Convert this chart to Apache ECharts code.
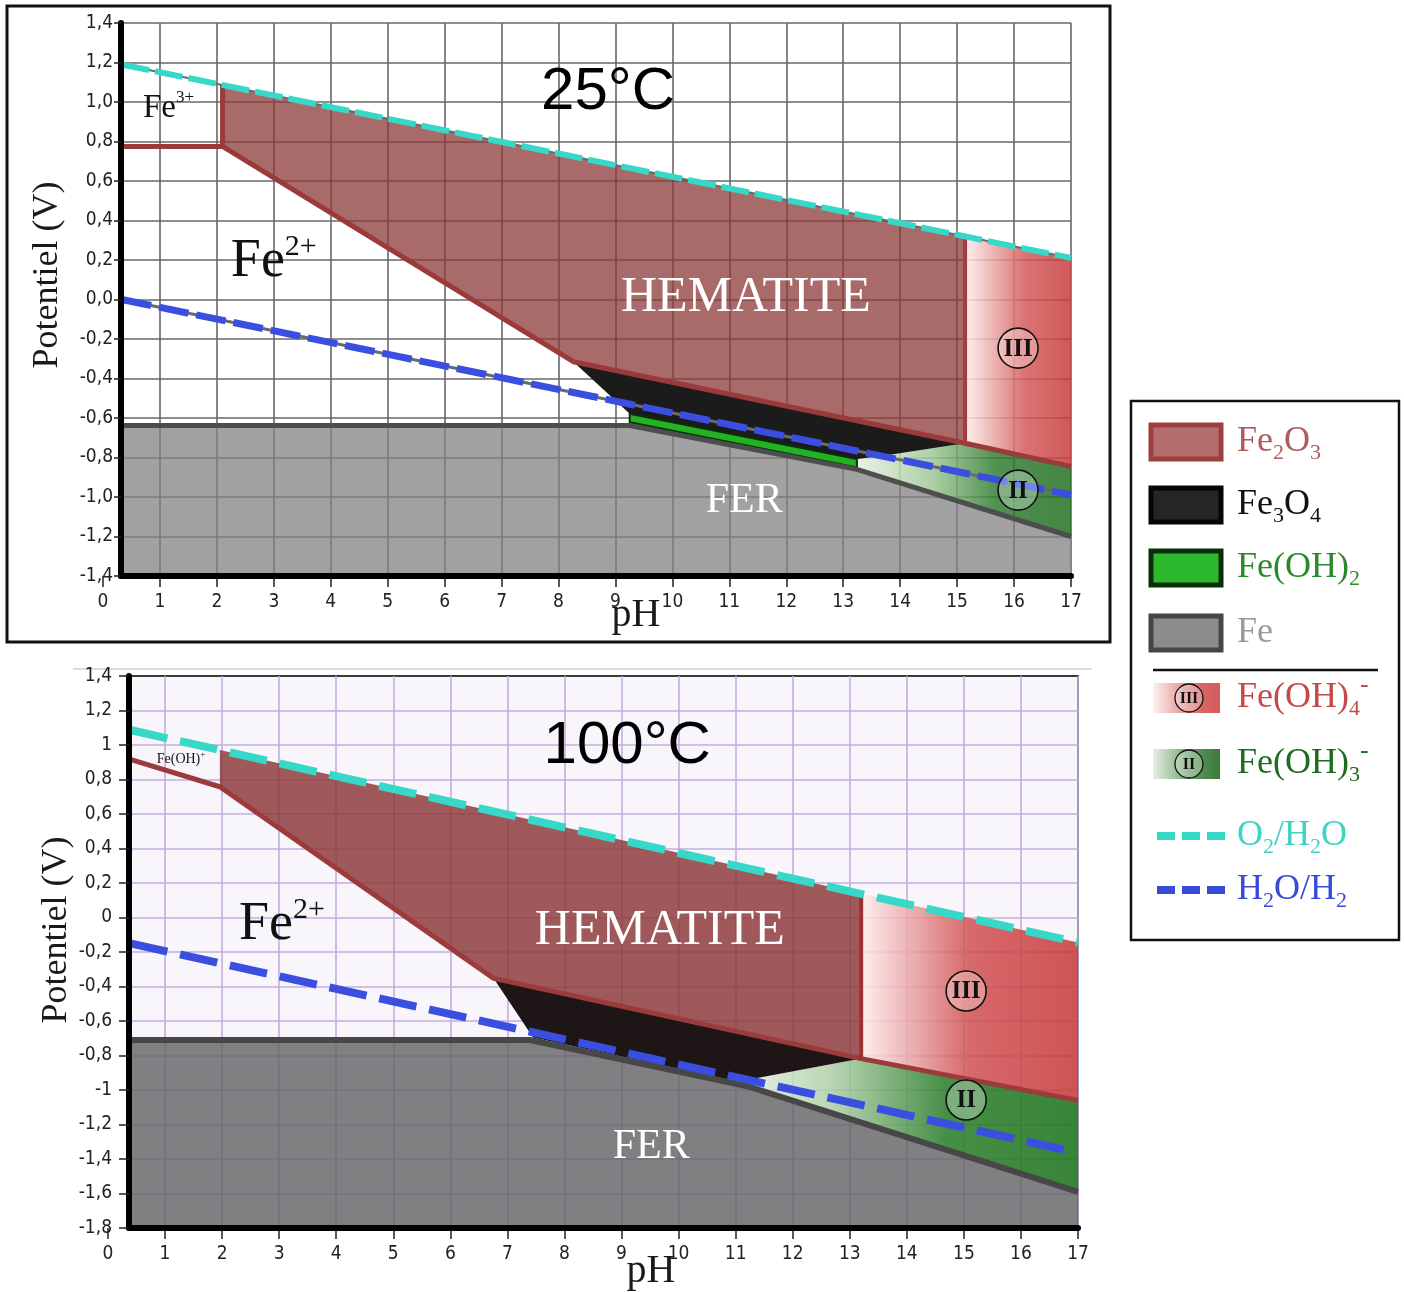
<!DOCTYPE html>
<html><head><meta charset="utf-8">
<script src="https://cdn.jsdelivr.net/npm/echarts@6/dist/echarts.min.js"></script>
<style>html,body{margin:0;padding:0;background:#fff}#c{width:1404px;height:1292px}</style>
</head><body><div id="c"></div>
<script>
// ---------- DATA ----------
const pHTicks = [0,1,2,3,4,5,6,7,8,9,10,11,12,13,14,15,16,17];

// 25 °C diagram (pH, E in V)
const t25_O2H2O   = [[0.33,1.19],[17,0.21]];
const t25_H2OH2   = [[0.33,0.0],[17,-0.99]];
const t25_Fe2O3   = [[2.1,0.775],[2.1,1.086],[15.14,0.319],[15.14,-0.728],[8.26,-0.315]];
const t25_Fe3O4   = [[8.26,-0.315],[15.14,-0.728],[13.79,-0.787],[13.24,-0.808],[9.25,-0.578]];
const t25_FeOH2   = [[9.25,-0.578],[13.24,-0.808],[13.24,-0.85],[9.25,-0.622]];
const t25_Fe      = [[0.33,-0.638],[9.25,-0.638],[13.24,-0.86],[17,-1.2],[17,-1.4],[0.33,-1.4]];
const t25_FeOH4   = [[15.14,0.319],[17,0.21],[17,-0.845],[15.14,-0.728]];
const t25_FeOH3   = [[13.24,-0.808],[13.79,-0.787],[15.14,-0.728],[17,-0.845],[17,-1.2],[13.24,-0.86]];
const t25_redEdge = [[0.33,0.775],[2.1,0.775],[8.26,-0.315],[15.14,-0.728],[17,-0.845]];
const t25_redV1   = [[2.1,0.775],[2.1,1.086]];
const t25_redV2   = [[15.14,0.319],[15.14,-0.728]];
const t25_feEdge  = [[0.33,-0.638],[9.25,-0.638],[13.24,-0.86],[17,-1.2]];
const t25_labels  = [
  {key:'title', text:'25°C', x:8.87, y:1.05},
  {key:'fe3',   text:'Fe', sup:'3+', x:1.15, y:0.97},
  {key:'fe2',   text:'Fe', sup:'2+', x:3.0, y:0.19},
  {key:'hem',   text:'HEMATITE', x:11.29, y:0.008},
  {key:'fer',   text:'FER', x:11.26, y:-1.02},
  {key:'circ',  text:'III', x:16.07, y:-0.246},
  {key:'circ',  text:'II', x:16.07, y:-0.965}
];

// 100 °C diagram
const t100_O2H2O   = [[0.39,1.087],[17,-0.145]];
const t100_H2OH2   = [[0.39,-0.15],[16.9,-1.357]];
const t100_Fe2O3   = [[1.96,0.758],[1.96,0.971],[13.2,0.137],[13.2,-0.818],[6.76,-0.353]];
const t100_Fe3O4   = [[6.76,-0.353],[13.2,-0.818],[11.38,-0.93],[11.23,-0.965],[7.45,-0.695]];
const t100_Fe      = [[0.39,-0.71],[7.4,-0.71],[11.23,-0.98],[17,-1.59],[17,-1.8],[0.39,-1.8]];
const t100_FeOH4   = [[13.2,0.137],[17,-0.145],[17,-1.06],[13.2,-0.818]];
const t100_FeOH3   = [[11.38,-0.93],[13.2,-0.818],[17,-1.06],[17,-1.59],[11.23,-0.98]];
const t100_redEdge = [[0.39,0.917],[1.96,0.758],[6.76,-0.353],[13.2,-0.818],[17,-1.06]];
const t100_redV2   = [[13.2,0.137],[13.2,-0.818]];
const t100_feEdge  = [[0.39,-0.71],[7.4,-0.71],[11.23,-0.98],[17,-1.59]];
const t100_labels  = [
  {key:'title', text:'100°C', x:9.1, y:0.994},
  {key:'small', text:'Fe(OH)', sup:'+', x:1.28, y:0.919},
  {key:'fe2',   text:'Fe', sup:'2+', x:3.05, y:-0.043},
  {key:'hem',   text:'HEMATITE', x:9.67, y:-0.078},
  {key:'fer',   text:'FER', x:9.52, y:-1.33},
  {key:'circ',  text:'III', x:15.04, y:-0.426},
  {key:'circ',  text:'II', x:15.04, y:-1.058}
];

// ---------- RENDER ----------
const SERIF = "'Liberation Serif','DejaVu Serif',serif";
const SANS = "'Liberation Sans',Arial,sans-serif";
const TICKF = "'DejaVu Sans Condensed','DejaVu Sans',sans-serif";
const G = echarts.graphic;
const lg = (stops) => new G.LinearGradient(0,0,1,0, stops.map(s=>({offset:s[0],color:s[1]})));

const chart = echarts.init(document.getElementById('c'), null, {renderer:'canvas'});

function poly(pts, ax, ay, style, z) {
  return {type:'custom', xAxisIndex:ax, yAxisIndex:ay, z, silent:true, animation:false, data: pts,
    renderItem(params, api){
      if (params.dataIndex !== 0) return null;
      return {type:'polygon', shape:{points: pts.map(p=>api.coord(p))}, style};
    }};
}
function line(pts, ax, ay, lineStyle, z) {
  return {type:'line', xAxisIndex:ax, yAxisIndex:ay, data: pts, symbol:'none', silent:true,
    animation:false, z, lineStyle, clip:false};
}
function labels(list, ax, ay, z) {
  return {type:'custom', xAxisIndex:ax, yAxisIndex:ay, z, silent:true, animation:false,
    data: list.map(l=>[l.x,l.y]),
    renderItem(params, api){
      const l = list[params.dataIndex];
      const p = api.coord([l.x,l.y]);
      const base = {x:p[0], y:p[1]};
      if (l.key === 'title') return Object.assign(base,{type:'text', style:{text:l.text, font:`60px ${SANS}`, fill:'#000', align:'center', verticalAlign:'middle'}});
      if (l.key === 'hem') return Object.assign(base,{type:'text', style:{text:l.text, font:`50px ${SERIF}`, fill:'#fff', align:'center', verticalAlign:'middle'}});
      if (l.key === 'fer') return Object.assign(base,{type:'text', style:{text:l.text, font:`42px ${SERIF}`, fill:'#fff', align:'center', verticalAlign:'middle'}});
      if (l.key === 'fe2') return Object.assign(base,{type:'text', style:{text:`{b|${l.text}}{p|${l.sup}}`, align:'center', verticalAlign:'middle',
          rich:{b:{fontSize:54, fontFamily:SERIF, fill:'#111'}, p:{fontSize:30, fontFamily:SERIF, fill:'#111', padding:[0,0,30,0]}}}});
      if (l.key === 'fe3') return Object.assign(base,{type:'text', style:{text:`{b|${l.text}}{p|${l.sup}}`, align:'center', verticalAlign:'middle',
          rich:{b:{fontSize:33, fontFamily:SERIF, fill:'#111'}, p:{fontSize:17, fontFamily:SERIF, fill:'#111', padding:[0,0,20,0]}}}});
      if (l.key === 'small') return Object.assign(base,{type:'text', style:{text:`{b|${l.text}}{p|${l.sup}}`, align:'center', verticalAlign:'middle',
          rich:{b:{fontSize:14, fontFamily:SERIF, fill:'#111'}, p:{fontSize:9, fontFamily:SERIF, fill:'#111', padding:[0,0,8,0]}}}});
      if (l.key === 'circ') return Object.assign(base,{type:'group', children:[
          {type:'circle', shape:{cx:0, cy:0, r:20}, style:{fill:'rgba(255,255,255,0.3)', stroke:'#111', lineWidth:1.6}},
          {type:'text', x:0, y:1, style:{text:l.text, font:`bold 25px ${SERIF}`, fill:'#111', align:'center', verticalAlign:'middle'}}]});
      return null;
    }};
}

function yFmt(dec) {
  return v => { let r = Math.round(v*10)/10; if (Math.abs(r) < 1e-9) r = 0;
    return (dec ? r.toFixed(1) : String(r)).replace('.', ','); };
}
const tickLabel = {fontSize:19, color:'#222', fontFamily:TICKF};

function xAxes(gA, gB, gridColor) {
  return [
    {gridIndex:gA, type:'value', min:0, max:17, interval:1,
     axisLine:{show:false, onZero:false}, axisTick:{show:true, length:11, lineStyle:{color:'#222', width:1.5}},
     axisLabel:Object.assign({margin:17}, tickLabel),
     splitLine:{show:true, showMinLine:false, lineStyle:{color:gridColor, width:1.6}}},
    {gridIndex:gB, type:'value', min:0, max:1, z:10,
     axisLine:{show:true, onZero:false, lineStyle:{color:'#000', width:6}},
     axisTick:{show:false}, axisLabel:{show:false}, splitLine:{show:false}}
  ];
}
function yAxes(gA, gB, min, max, gridColor, dec, margin, tickLen, showMax) {
  return [
    {gridIndex:gA, type:'value', min, max, show:false},
    {gridIndex:gB, type:'value', min, max, interval:0.2, position:'left',
     axisLine:{show:false, onZero:false}, axisTick:{show:false}, axisLabel:{show:false},
     splitLine:{show:true, showMinLine:false, showMaxLine:showMax, lineStyle:{color:gridColor, width:1.6}}},
    {gridIndex:gB, type:'value', min, max, interval:0.2, position:'left', z:10,
     axisLine:{show:true, onZero:false, lineStyle:{color:'#000', width:6}},
     axisTick:{show:true, length:tickLen, lineStyle:{color:'#222', width:1.5}},
     axisLabel:Object.assign({margin, formatter:yFmt(dec)}, tickLabel),
     splitLine:{show:false}}
  ];
}

const series = [
  // ---- 25 °C (xAxis 0, yAxis 0)
  poly(t25_Fe,    0,0, {fill:'rgba(130,130,130,0.75)'}, 2),
  poly(t25_Fe2O3, 0,0, {fill:'rgba(140,56,56,0.75)'}, 2),
  poly(t25_FeOH4, 0,0, {fill:lg([[0,'rgba(255,238,238,0.85)'],[0.55,'rgba(214,92,92,0.85)'],[1,'rgba(200,60,60,0.85)']])}, 2),
  poly(t25_FeOH3, 0,0, {fill:lg([[0,'rgba(230,240,225,0.85)'],[0.35,'rgba(160,200,150,0.85)'],[0.65,'rgba(50,125,50,0.85)'],[1,'rgba(35,112,35,0.85)']])}, 2),
  poly(t25_Fe3O4, 0,0, {fill:'#1b1b1b'}, 3),
  poly(t25_FeOH2, 0,0, {fill:'#22b222', stroke:'#0a2f0a', lineWidth:2}, 3),
  line(t25_feEdge, 0,0, {color:'#4d4d4d', width:5}, 4),
  line(t25_redEdge,0,0, {color:'#9a3a3a', width:5}, 4),
  line(t25_redV1,  0,0, {color:'#9a3a3a', width:5}, 4),
  line(t25_redV2,  0,0, {color:'#a33c3c', width:4}, 4),
  line(t25_H2OH2,  0,0, {color:'#6a6a6a', width:3}, 5),
  line(t25_H2OH2,  0,0, {color:'#3a4fe0', width:7, type:[30,8]}, 6),
  line(t25_O2H2O,  0,0, {color:'#6a6a6a', width:2}, 5),
  line(t25_O2H2O,  0,0, {color:'#38d8c8', width:6, type:[28,6]}, 6),
  labels(t25_labels, 0,0, 7),
  // ---- 100 °C (xAxis 2, yAxis 3)
  poly(t100_Fe,    2,3, {fill:'rgba(98,98,100,0.8)'}, 2),
  poly(t100_Fe2O3, 2,3, {fill:'rgba(137,50,50,0.8)'}, 2),
  poly(t100_FeOH4, 2,3, {fill:lg([[0,'rgba(255,236,236,0.85)'],[0.5,'rgba(208,80,80,0.85)'],[1,'rgba(200,55,55,0.85)']])}, 2),
  poly(t100_FeOH3, 2,3, {fill:lg([[0,'rgba(225,238,220,0.85)'],[0.25,'rgba(175,208,168,0.85)'],[0.6,'rgba(45,128,45,0.88)'],[1,'rgba(35,120,35,0.9)']])}, 2),
  poly(t100_Fe3O4, 2,3, {fill:'#1e1616'}, 3),
  line(t100_feEdge, 2,3, {color:'#474747', width:6}, 4),
  line(t100_redEdge,2,3, {color:'#9b3b3b', width:5}, 4),
  line(t100_redV2,  2,3, {color:'#a03030', width:4}, 4),
  line(t100_H2OH2,  2,3, {color:'#3a4fe0', width:8, type:[38,13]}, 6),
  line(t100_O2H2O,  2,3, {color:'#38d8c8', width:8, type:[38,13]}, 6),
  labels(t100_labels, 2,3, 7)
];

// legend and frame graphics (pixel layout)
const LX = 1237;
const rt = (parts) => parts.map(p => `{${p[0]}|${p[1]}}`).join('');
function legRich(color) {
  return {n:{fontSize:36, fontFamily:SERIF, fill:color},
          s:{fontSize:22, fontFamily:SERIF, fill:color, padding:[22,0,0,0]},
          u:{fontSize:26, fontFamily:SERIF, fill:color, padding:[0,0,26,0]}};
}
function legText(y, parts, color) {
  return {type:'text', x:LX, y, style:{text:rt(parts), rich:legRich(color), verticalAlign:'middle', align:'left'}};
}
function legRect(y, fill, stroke) {
  return {type:'rect', shape:{x:1151, y:y-17, width:70, height:34}, style:{fill, stroke, lineWidth:5}};
}
function legGrad(y, stops, label) {
  return [{type:'rect', shape:{x:1153, y:y-15, width:67, height:30}, style:{fill:lg(stops)}},
          {type:'circle', shape:{cx:1189, cy:y, r:14}, style:{fill:'rgba(255,255,255,0.3)', stroke:'#111', lineWidth:1.3}},
          {type:'text', x:1189, y:y+1, style:{text:label, font:`bold 16px ${SERIF}`, fill:'#111', align:'center', verticalAlign:'middle'}}];
}
function legDash(y, color) {
  return {type:'line', shape:{x1:1157, y1:y, x2:1226, y2:y}, style:{stroke:color, lineWidth:8, lineDash:[18,7]}};
}

const graphic = [
  {type:'rect', shape:{x:7, y:6, width:1103, height:636}, style:{fill:'none', stroke:'#111', lineWidth:3}, z:-1},
  {type:'line', shape:{x1:73, y1:669, x2:1092, y2:669}, style:{stroke:'#dcdcdc', lineWidth:2}},
  {type:'text', x:48, y:275, rotation:Math.PI/2, style:{text:'Potentiel (V)', font:`36px ${SERIF}`, fill:'#1a1a1a', align:'center', verticalAlign:'middle'}},
  {type:'text', x:636, y:615, style:{text:'pH', font:`40px ${SERIF}`, fill:'#1a1a1a', align:'center', verticalAlign:'middle'}},
  {type:'text', x:57, y:930, rotation:Math.PI/2, style:{text:'Potentiel (V)', font:`36px ${SERIF}`, fill:'#1a1a1a', align:'center', verticalAlign:'middle'}},
  {type:'text', x:651, y:1271, style:{text:'pH', font:`40px ${SERIF}`, fill:'#1a1a1a', align:'center', verticalAlign:'middle'}},
  // legend box
  {type:'rect', shape:{x:1131, y:401, width:268, height:539}, style:{fill:'#fff', stroke:'#111', lineWidth:2.5}},
  legRect(442, '#b46e6e', '#9e3f3f'),
  legText(442, [['n','Fe'],['s','2'],['n','O'],['s','3']], '#b05a5a'),
  legRect(505, '#252525', '#050505'),
  legText(505, [['n','Fe'],['s','3'],['n','O'],['s','4']], '#111'),
  legRect(568, '#2cb82c', '#0a2e0a'),
  legText(568, [['n','Fe(OH)'],['s','2']], '#2a8a2a'),
  legRect(633, '#8c8c8c', '#464646'),
  legText(633, [['n','Fe']], '#9a9a9a'),
  {type:'line', shape:{x1:1153, y1:670, x2:1378, y2:670}, style:{stroke:'#111', lineWidth:2.5}},
  ...legGrad(698, [[0,'#fdf1f1'],[0.7,'#d96868'],[1,'#d45a5a']], 'III'),
  legText(698, [['n','Fe(OH)'],['s','4'],['u','-']], '#c44a4a'),
  ...legGrad(764, [[0,'#e6efe4'],[0.65,'#5a945a'],[1,'#3a7a3a']], 'II'),
  legText(764, [['n','Fe(OH)'],['s','3'],['u','-']], '#1f6b1f'),
  legDash(836, '#38d8c8'),
  legText(836, [['n','O'],['s','2'],['n','/H'],['s','2'],['n','O']], '#3ed3c3'),
  legDash(890, '#3a4ad8'),
  legText(890, [['n','H'],['s','2'],['n','O/H'],['s','2']], '#3a4ad8')
];

chart.setOption({
  animation:false,
  backgroundColor:'#fff',
  grid:[
    {left:103, top:23, width:968, height:553},
    {left:121, top:23, width:950, height:553},
    {left:108, top:676, width:970, height:552},
    {left:129, top:676, width:949, height:552, show:true, backgroundColor:'#f8f6fb', borderColor:'#3a3a3a', borderWidth:2}
  ],
  xAxis:[...xAxes(0,1,'#686868'), ...xAxes(2,3,'#c2aedf')],
  yAxis:[...yAxes(0,1,-1.4,1.4,'#686868',true,8,7,true), ...yAxes(2,3,-1.8,1.4,'#c2aedf',false,17,10,false)],
  series,
  graphic
});
</script></body></html>
